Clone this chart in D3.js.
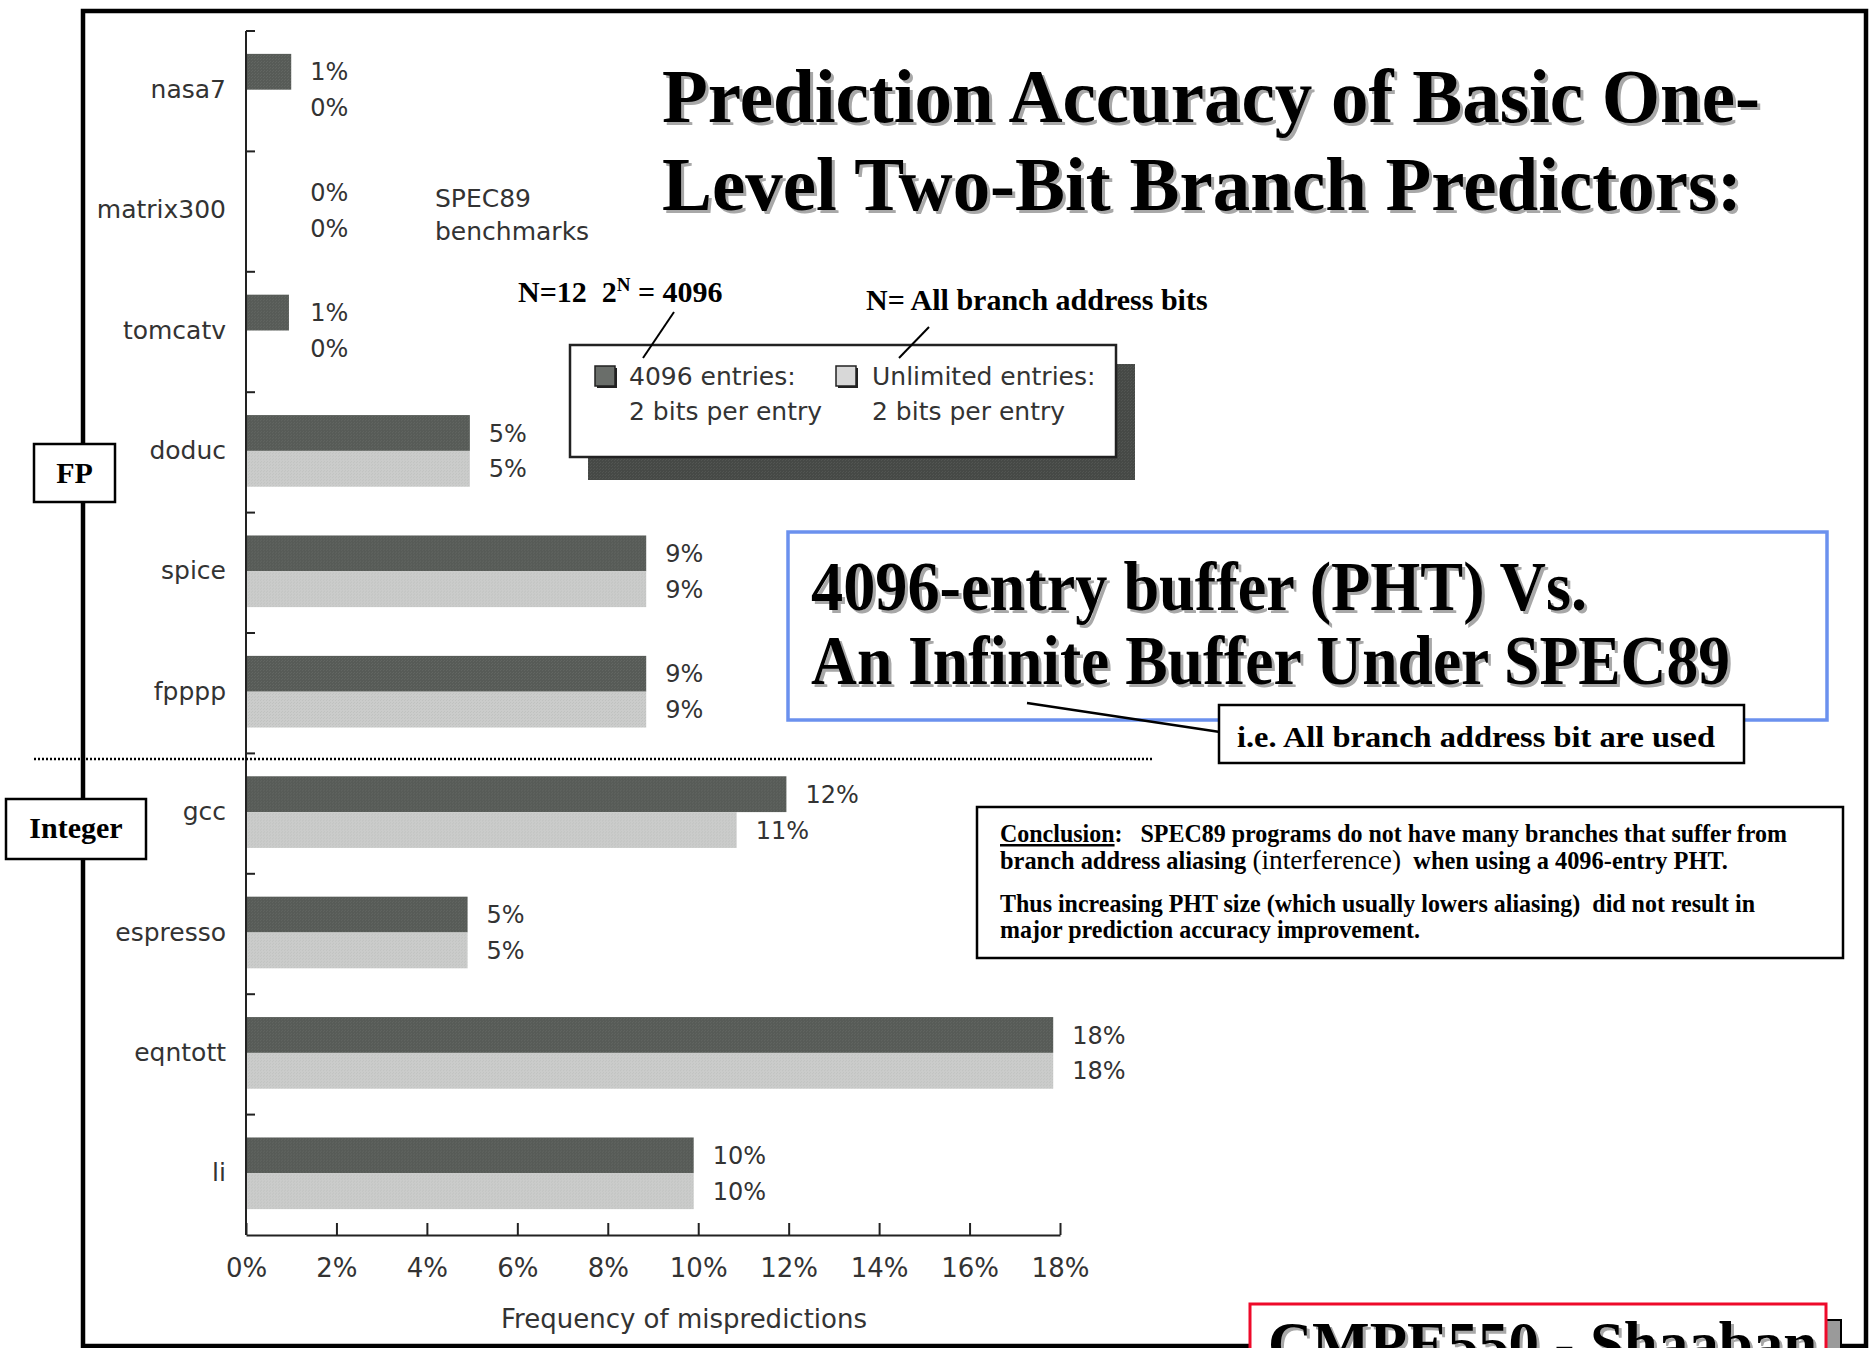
<!DOCTYPE html>
<html>
<head>
<meta charset="utf-8">
<script src="https://cdn.jsdelivr.net/npm/d3@7"></script>
<style>
  body { margin: 0; background: #fff; }
  svg { display: block; }
  text { white-space: pre; }
</style>
</head>
<body>
<script>
// benchmarks, top to bottom
var categories = ["nasa7", "matrix300", "tomcatv", "doduc", "spice", "fpppp",
                  "gcc", "espresso", "eqntott", "li"];
// misprediction frequency (%)
var pht4096   = [1.0, 0, 0.95, 4.95, 8.85, 8.85, 11.95, 4.9, 17.85, 9.9];
var unlimited = [0,   0, 0,    4.95, 8.85, 8.85, 10.85, 4.9, 17.85, 9.9];
var seriesKeys = ["4096", "unlimited"];
var xTicks = [0, 2, 4, 6, 8, 10, 12, 14, 16, 18];

var W = 1871, H = 1348;
var sans = "'DejaVu Sans', sans-serif";
var serif = "'Liberation Serif', 'Times New Roman', serif";
var darkFill = "#575b57", lightFill = "#cbcccb", txt = "#333";

var svg = d3.select("body").append("svg")
    .attr("width", W).attr("height", H);

// texture for the scanned bars
var defs = svg.append("defs");
function pattern(id, base, dot) {
    var p = defs.append("pattern").attr("id", id)
        .attr("width", 3).attr("height", 3).attr("patternUnits", "userSpaceOnUse");
    p.append("rect").attr("width", 3).attr("height", 3).attr("fill", base);
    p.append("rect").attr("width", 1).attr("height", 1).attr("fill", dot);
    p.append("rect").attr("x", 2).attr("y", 1).attr("width", 1).attr("height", 1).attr("fill", dot);
}
pattern("pdark", darkFill, "#626662");
pattern("plight", lightFill, "#c0c2c0");
pattern("pshadow", "#464946", "#525552");

// outer slide frame
svg.append("rect").attr("x", 83).attr("y", 11).attr("width", 1783).attr("height", 1335)
    .attr("fill", "none").attr("stroke", "#000").attr("stroke-width", 4.5);

// scales
var x = d3.scaleLinear().domain([0, 18]).range([246, 1060]);
var y = d3.scaleBand().domain(categories).range([31, 1235]);
var step = y.step();
var inner = d3.scaleBand().domain(seriesKeys).range([0.19 * step, 0.785 * step]);

var data = categories.map(function(c, i) {
    return {cat: c, vals: [{k: "4096", v: pht4096[i]}, {k: "unlimited", v: unlimited[i]}]};
});

var chart = svg.append("g");

// bars
var groups = chart.selectAll("g.cat").data(data).enter().append("g")
    .attr("class", "cat")
    .attr("transform", function(d) { return "translate(0," + y(d.cat) + ")"; });

groups.selectAll("rect").data(function(d) { return d.vals; }).enter().append("rect")
    .attr("x", x(0))
    .attr("y", function(d) { return inner(d.k); })
    .attr("width", function(d) { return x(d.v) - x(0); })
    .attr("height", inner.bandwidth())
    .attr("fill", function(d) { return d.k === "4096" ? "url(#pdark)" : "url(#plight)"; });

// value labels
groups.selectAll("text.val").data(function(d) { return d.vals; }).enter().append("text")
    .attr("class", "val")
    .attr("x", function(d) { return x(Math.max(d.v, 1)) + 19; })
    .attr("y", function(d) { return inner(d.k) + inner.bandwidth() / 2; })
    .attr("dy", "0.36em")
    .attr("font-family", sans).attr("font-size", 24).attr("fill", txt)
    .text(function(d) { return Math.round(d.v) + "%"; });

// category labels
groups.append("text")
    .attr("x", 226).attr("y", 0.48 * step).attr("dy", "0.36em")
    .attr("text-anchor", "end")
    .attr("font-family", sans).attr("font-size", 25).attr("fill", txt)
    .text(function(d) { return d.cat; });

// y axis: line with ticks at band boundaries pointing right
chart.append("line").attr("x1", x(0)).attr("x2", x(0))
    .attr("y1", y(categories[0])).attr("y2", y.range()[1])
    .attr("stroke", "#222").attr("stroke-width", 2);
chart.selectAll("line.ytick").data(categories).enter().append("line")
    .attr("class", "ytick")
    .attr("x1", x(0)).attr("x2", x(0) + 9)
    .attr("y1", function(d) { return y(d); }).attr("y2", function(d) { return y(d); })
    .attr("stroke", "#222").attr("stroke-width", 2);

// x axis
var xAxis = chart.append("g")
    .attr("transform", "translate(0," + y.range()[1] + ")")
    .call(d3.axisBottom(x).tickValues(xTicks).tickFormat(function(d) { return d + "%"; })
        .tickSizeInner(-12).tickSizeOuter(0).tickPadding(24));
xAxis.select(".domain").attr("stroke", "#222").attr("stroke-width", 2);
xAxis.selectAll(".tick line").attr("stroke", "#222").attr("stroke-width", 2);
xAxis.selectAll(".tick text").attr("font-family", sans).attr("font-size", 26).attr("fill", txt);

chart.append("text").attr("x", 684).attr("y", 1328).attr("text-anchor", "middle")
    .attr("font-family", sans).attr("font-size", 26).attr("fill", txt)
    .text("Frequency of mispredictions");

chart.append("text").attr("x", 435).attr("y", 207)
    .attr("font-family", sans).attr("font-size", 25).attr("fill", txt).text("SPEC89");
chart.append("text").attr("x", 435).attr("y", 240)
    .attr("font-family", sans).attr("font-size", 25).attr("fill", txt).text("benchmarks");

// legend box with drop shadow
var leg = svg.append("g");
leg.append("rect").attr("x", 588).attr("y", 364).attr("width", 547).attr("height", 116)
    .attr("fill", "url(#pshadow)");
leg.append("rect").attr("x", 570).attr("y", 345).attr("width", 546).attr("height", 112)
    .attr("fill", "#fff").attr("stroke", "#222").attr("stroke-width", 2.5);
var legItems = [
    {k: "4096", sx: 595, tx: 629, l1: "4096 entries:"},
    {k: "unlimited", sx: 836, tx: 872, l1: "Unlimited entries:"}
];
legItems.forEach(function(d) {
    leg.append("rect").attr("x", d.sx + 2).attr("y", 368).attr("width", 20).attr("height", 20)
        .attr("fill", "#222");
    leg.append("rect").attr("x", d.sx).attr("y", 366).attr("width", 20).attr("height", 20)
        .attr("fill", d.k === "4096" ? "#6a6e6a" : "#d8d8d8")
        .attr("stroke", "#222").attr("stroke-width", 1.5);
    leg.append("text").attr("x", d.tx).attr("y", 385)
        .attr("font-family", sans).attr("font-size", 25).attr("fill", txt).text(d.l1);
    leg.append("text").attr("x", d.tx).attr("y", 420)
        .attr("font-family", sans).attr("font-size", 25).attr("fill", txt).text("2 bits per entry");
});

// helper for bold serif text with a grey drop shadow
function shadowText(str, tx, ty, size, len, off) {
    var g = svg.append("g");
    [["#a8a8a8", off], ["#000", 0]].forEach(function(s) {
        var t = g.append("text").attr("x", tx + s[1]).attr("y", ty + s[1])
            .attr("font-family", serif).attr("font-weight", "bold")
            .attr("font-size", size).attr("fill", s[0]).text(str);
        if (len) t.attr("textLength", len).attr("lengthAdjust", "spacingAndGlyphs");
    });
    return g;
}

// title
shadowText("Prediction Accuracy of Basic One-", 662, 122, 76, 1098, 3);
shadowText("Level Two-Bit Branch Predictors:", 662, 210, 76, 1080, 3);

// N=12 annotation
var n12 = svg.append("text").attr("x", 518).attr("y", 302)
    .attr("font-family", serif).attr("font-weight", "bold").attr("font-size", 30).attr("fill", "#000");
n12.append("tspan").text("N=12  2");
n12.append("tspan").attr("dy", -11).attr("font-size", 19).text("N");
n12.append("tspan").attr("dy", 11).text(" = 4096");
svg.append("line").attr("x1", 674).attr("y1", 312).attr("x2", 643).attr("y2", 358)
    .attr("stroke", "#000").attr("stroke-width", 2);

svg.append("text").attr("x", 866).attr("y", 310)
    .attr("font-family", serif).attr("font-weight", "bold").attr("font-size", 30).attr("fill", "#000")
    .text("N= All branch address bits");
svg.append("line").attr("x1", 929).attr("y1", 327).attr("x2", 899).attr("y2", 358)
    .attr("stroke", "#000").attr("stroke-width", 2);

// blue box
svg.append("rect").attr("x", 788).attr("y", 532).attr("width", 1039).attr("height", 188)
    .attr("fill", "#fff").attr("stroke", "#6b91ee").attr("stroke-width", 3.5);
shadowText("4096-entry buffer (PHT) Vs.", 811, 610, 70, 776, 3);
shadowText("An Infinite Buffer Under SPEC89", 811, 684, 70, 919, 3);

// i.e. note
svg.append("line").attr("x1", 1027).attr("y1", 703).attr("x2", 1220).attr("y2", 732)
    .attr("stroke", "#000").attr("stroke-width", 2.5);
svg.append("rect").attr("x", 1219).attr("y", 705).attr("width", 525).attr("height", 58)
    .attr("fill", "#fff").attr("stroke", "#000").attr("stroke-width", 2.5);
svg.append("text").attr("x", 1237).attr("y", 747)
    .attr("font-family", serif).attr("font-weight", "bold").attr("font-size", 29).attr("fill", "#000")
    .attr("textLength", 478).attr("lengthAdjust", "spacingAndGlyphs")
    .text("i.e. All branch address bit are used");

// FP / Integer divider
svg.append("line").attr("x1", 34).attr("x2", 1152).attr("y1", 759).attr("y2", 759)
    .attr("stroke", "#000").attr("stroke-width", 2.5).attr("stroke-dasharray", "2,2");

function tagBox(label, bx, by, bw, bh, ty) {
    svg.append("rect").attr("x", bx).attr("y", by).attr("width", bw).attr("height", bh)
        .attr("fill", "#fff").attr("stroke", "#000").attr("stroke-width", 2.5);
    svg.append("text").attr("x", bx + bw / 2).attr("y", ty).attr("text-anchor", "middle")
        .attr("font-family", serif).attr("font-weight", "bold").attr("font-size", 30)
        .attr("fill", "#000").text(label);
}
tagBox("FP", 34, 444, 81, 58, 483);
tagBox("Integer", 6, 799, 140, 60, 838);

// conclusion box
svg.append("rect").attr("x", 977).attr("y", 807).attr("width", 866).attr("height", 151)
    .attr("fill", "#fff").attr("stroke", "#000").attr("stroke-width", 2.5);
var c1 = svg.append("text").attr("x", 1000).attr("y", 842)
    .attr("font-family", serif).attr("font-weight", "bold").attr("font-size", 25)
    .attr("textLength", 787).attr("lengthAdjust", "spacingAndGlyphs");
c1.append("tspan").attr("text-decoration", "underline").text("Conclusion");
c1.append("tspan").text(":   SPEC89 programs do not have many branches that suffer from");
var c2 = svg.append("text").attr("x", 1000).attr("y", 869)
    .attr("font-family", serif).attr("font-weight", "bold").attr("font-size", 25)
    .attr("textLength", 728).attr("lengthAdjust", "spacingAndGlyphs");
c2.append("tspan").text("branch address aliasing ");
c2.append("tspan").attr("font-weight", "normal").attr("font-size", 28).text("(interference)");
c2.append("tspan").text("  when using a 4096-entry PHT.");
svg.append("text").attr("x", 1000).attr("y", 912)
    .attr("font-family", serif).attr("font-weight", "bold").attr("font-size", 25)
    .attr("textLength", 755).attr("lengthAdjust", "spacingAndGlyphs")
    .text("Thus increasing PHT size (which usually lowers aliasing)  did not result in");
svg.append("text").attr("x", 1000).attr("y", 938)
    .attr("font-family", serif).attr("font-weight", "bold").attr("font-size", 25)
    .attr("textLength", 420).attr("lengthAdjust", "spacingAndGlyphs")
    .text("major prediction accuracy improvement.");

// footer tag, cut by the page edge
svg.append("rect").attr("x", 1265).attr("y", 1320).attr("width", 576).attr("height", 60)
    .attr("fill", "#9a9a9a").attr("stroke", "#000").attr("stroke-width", 2);
svg.append("rect").attr("x", 1250).attr("y", 1304).attr("width", 576).attr("height", 60)
    .attr("fill", "#fff").attr("stroke", "#ee0a2a").attr("stroke-width", 3);
shadowText("CMPE550 - Shaaban", 1268, 1364, 61, null, 3);
</script>
</body>
</html>
